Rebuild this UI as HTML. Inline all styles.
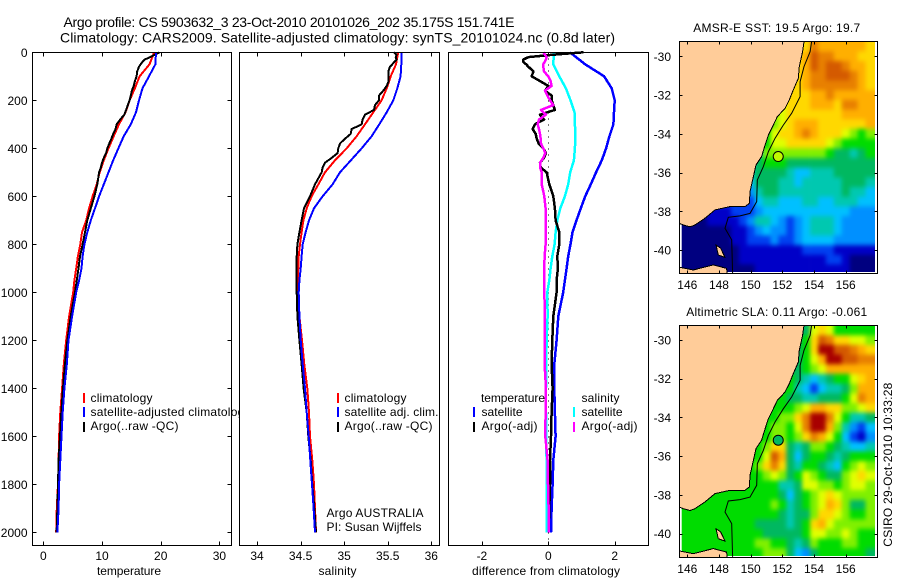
<!DOCTYPE html>
<html lang="en">
<head>
<meta charset="utf-8">
<title>Argo profile 5903632</title>
<style>
html,body{margin:0;padding:0;background:#fff;}
svg{display:block;}
text{font-family:"Liberation Sans",sans-serif;font-size:12px;fill:#000;}
</style>
</head>
<body>
<svg id="fig" xmlns="http://www.w3.org/2000/svg" width="900" height="580" viewBox="0 0 900 580">
  <defs>
    <clipPath id="box-sst"><rect x="680" y="42" width="197" height="231"/></clipPath>
    <clipPath id="data-sst"><rect x="681.7" y="42" width="193.3" height="230"/></clipPath>
    <clipPath id="box-sla"><rect x="680" y="326" width="197" height="231"/></clipPath>
    <clipPath id="data-sla"><rect x="681.7" y="326" width="193.3" height="230"/></clipPath>
    <filter id="cell-soften" filterUnits="userSpaceOnUse" x="640" y="0" width="260" height="580" color-interpolation-filters="sRGB">
      <feGaussianBlur stdDeviation="2 2.5"/>
    </filter>
  </defs>
  <rect x="0" y="0" width="900" height="580" fill="#fff"/>

  <text x="63.5" y="27" style="font-size:14px" textLength="451" lengthAdjust="spacing">Argo profile: CS 5903632_3 23-Oct-2010 20101026_202 35.175S 151.741E</text>
  <text x="60" y="42.5" style="font-size:14px" textLength="555" lengthAdjust="spacing">Climatology: CARS2009. Satellite-adjusted climatology: synTS_20101024.nc (0.8d later)</text>

  <!-- temperature panel -->
  <g>
    <g id="temp-marks"></g>
    <g>
      <rect x="83" y="393" width="2" height="10" fill="#f00"/>
      <rect x="83" y="407" width="2" height="10" fill="#00f"/>
      <rect x="83" y="422" width="2" height="10" fill="#000"/>
      <text x="90.5" y="402" textLength="62" lengthAdjust="spacing">climatology</text>
      <text x="90.5" y="416" textLength="160" lengthAdjust="spacing">satellite-adjusted climatology</text>
      <text x="90.5" y="430" textLength="88" lengthAdjust="spacing">Argo(..raw -QC)</text>
    </g>
    <rect x="32.5" y="52.5" width="199" height="493" fill="none" stroke="#000" shape-rendering="crispEdges"/>
    <g id="temp-axis"></g>
    <text x="129" y="575" text-anchor="middle" textLength="64" lengthAdjust="spacing">temperature</text>
  </g>

  <!-- salinity panel -->
  <g>
    <rect x="239.5" y="52.5" width="200" height="493" fill="#fff"/>
    <g id="sal-marks"></g>
    <g>
      <rect x="337" y="393" width="2" height="10" fill="#f00"/>
      <rect x="337" y="407" width="2" height="10" fill="#00f"/>
      <rect x="337" y="422" width="2" height="10" fill="#000"/>
      <text x="344.5" y="402" textLength="62" lengthAdjust="spacing">climatology</text>
      <text x="344.5" y="416" textLength="94" lengthAdjust="spacing">satellite adj. clim.</text>
      <text x="344.5" y="430" textLength="88" lengthAdjust="spacing">Argo(..raw -QC)</text>
      <text x="326.5" y="517" textLength="97" lengthAdjust="spacing">Argo AUSTRALIA</text>
      <text x="326.5" y="531" textLength="95" lengthAdjust="spacing">PI: Susan Wijffels</text>
    </g>
    <rect x="239.5" y="52.5" width="200" height="493" fill="none" stroke="#000" shape-rendering="crispEdges"/>
    <g id="sal-axis"></g>
    <text x="337.5" y="575" text-anchor="middle" textLength="38" lengthAdjust="spacing">salinity</text>
  </g>

  <!-- difference panel -->
  <g>
    <rect x="448.5" y="52.5" width="200" height="493" fill="#fff"/>
    <g id="diff-marks"></g>
    <g>
      <text x="481" y="402" textLength="64" lengthAdjust="spacing">temperature</text>
      <rect x="473" y="407" width="2" height="10" fill="#00f"/>
      <text x="481.5" y="416" textLength="41" lengthAdjust="spacing">satellite</text>
      <rect x="473" y="422" width="2" height="10" fill="#000"/>
      <text x="481.5" y="430" textLength="56" lengthAdjust="spacing">Argo(-adj)</text>
      <text x="581.5" y="402" textLength="38" lengthAdjust="spacing">salinity</text>
      <rect x="573" y="407" width="2" height="10" fill="#0ff"/>
      <text x="581.5" y="416" textLength="41" lengthAdjust="spacing">satellite</text>
      <rect x="573" y="422" width="2" height="10" fill="#f0f"/>
      <text x="581.5" y="430" textLength="56" lengthAdjust="spacing">Argo(-adj)</text>
    </g>
    <rect x="448.5" y="52.5" width="200" height="493" fill="none" stroke="#000" shape-rendering="crispEdges"/>
    <g id="diff-axis"></g>
    <text x="546" y="575" text-anchor="middle" textLength="148" lengthAdjust="spacing">difference from climatology</text>
  </g>

  <!-- SST map -->
  <g>
    <text x="776.7" y="32" text-anchor="middle" textLength="167" lengthAdjust="spacing">AMSR-E SST: 19.5 Argo: 19.7</text>
    <g id="sst-cells" clip-path="url(#data-sst)" filter="url(#cell-soften)"></g>
    <g id="sst-geo" clip-path="url(#box-sst)"></g>
    <rect x="679.5" y="41.5" width="198" height="232" fill="none" stroke="#000" shape-rendering="crispEdges"/>
    <g id="sst-axis"></g>
  </g>

  <!-- SLA map -->
  <g>
    <text x="776.7" y="316" text-anchor="middle" textLength="181" lengthAdjust="spacing">Altimetric SLA: 0.11 Argo: -0.061</text>
    <g id="sla-cells" clip-path="url(#data-sla)" filter="url(#cell-soften)"></g>
    <g id="sla-geo" clip-path="url(#box-sla)"></g>
    <rect x="679.5" y="325.5" width="198" height="232" fill="none" stroke="#000" shape-rendering="crispEdges"/>
    <g id="sla-axis"></g>
  </g>

  <text transform="translate(892 546.7) rotate(-90)" textLength="164" lengthAdjust="spacing">CSIRO 29-Oct-2010 10:33:28</text>
</svg>

<script>
// ---------- tick labels ----------
const depthTicks = [0,200,400,600,800,1000,1200,1400,1600,1800,2000];
const tempTicks = [0,10,20,30];
const salTicks = [34,34.5,35,35.5,36];
const diffTicks = [-2,0,2];
const lonTicks = [146,148,150,152,154,156];
const latTicks = [-30,-32,-34,-36,-38,-40];

// ---------- depth levels ----------
const coarseDepths = [0,50,100,150,200,250,300,350,400,450,500,550,600,650,700,750,800,850,900,950,1000,1100,1200,1300,1400,1500,1600,1700,1800,1900,2000];
const fineDepths = [0,10,20,30,40,50,60,80,100,120,140,160,180,200,220,240,260,280,300,320,340,360,380,400,420,440,460,480,500,550,600,650,700,750,800,850,900,950,1000,1100,1200,1300,1400,1500,1600,1700,1800,1900,2000];

// ---------- temperature profiles ----------
const tempClimatology = [18.9,18.1,16.4,15.6,14.7,14.0,12.9,12.0,11.1,10.3,9.6,9.1,8.4,7.8,7.3,6.6,6.3,5.9,5.6,5.3,5.1,4.4,3.9,3.5,3.2,2.9,2.7,2.6,2.5,2.3,2.2];
const tempSatellite = [19.2,19.1,18.0,16.9,16.3,15.8,14.9,13.7,12.8,11.9,11.1,10.3,9.5,8.8,8.1,7.5,7.0,6.7,6.5,6.1,5.6,4.9,4.3,4.0,3.6,3.3,3.1,2.9,2.7,2.6,2.4];
const tempArgo = [19.8,19.0,18.2,17.3,16.9,16.6,16.3,16.0,15.9,15.6,15.4,15.1,14.9,14.7,14.4,14.1,13.8,13.1,12.5,12.3,11.9,11.6,11.25,10.9,10.7,10.3,10.0,9.8,9.5,9.2,8.7,8.1,7.5,7.1,6.7,6.25,6.0,5.7,5.4,4.66,4.1,3.7,3.35,3.07,2.84,2.6,2.5,2.4,2.27];

// ---------- salinity profiles ----------
const salClimatology = [35.62,35.595,35.534,35.488,35.43,35.335,35.239,35.143,35.029,34.895,34.78,34.704,34.627,34.57,34.532,34.512,34.493,34.478,34.474,34.467,34.463,34.486,34.516,34.543,34.577,34.597,34.608,34.635,34.654,34.665,34.677];
const salSatellite = [35.656,35.656,35.648,35.61,35.564,35.488,35.403,35.315,35.201,35.078,34.952,34.868,34.753,34.654,34.597,34.558,34.524,34.512,34.501,34.486,34.478,34.486,34.501,34.524,34.551,34.57,34.593,34.612,34.631,34.65,34.665];
const salArgo = [35.572,35.602,35.591,35.602,35.576,35.553,35.526,35.507,35.507,35.511,35.488,35.449,35.4,35.4,35.354,35.342,35.239,35.212,35.201,35.086,35.075,35.01,34.952,34.933,34.925,34.857,34.78,34.753,34.742,34.665,34.608,34.539,34.512,34.486,34.463,34.455,34.455,34.455,34.455,34.463,34.486,34.512,34.535,34.57,34.589,34.616,34.635,34.658,34.677];

// ---------- differences from climatology ----------
const diffTempSatellite = [0.65,1.11,1.68,1.91,2.0,1.98,1.96,1.84,1.74,1.61,1.44,1.28,1.11,0.98,0.85,0.73,0.67,0.6,0.55,0.5,0.45,0.3,0.25,0.18,0.18,0.2,0.22,0.15,0.13,0.1,0.08];
const diffSalSatellite = [0.17,0.15,0.33,0.53,0.67,0.79,0.8,0.82,0.8,0.77,0.66,0.6,0.5,0.36,0.27,0.22,0.19,0.12,0.07,0.03,-0.03,-0.02,-0.05,-0.06,-0.07,-0.07,-0.07,-0.05,-0.05,-0.05,-0.04];
const diffTempArgo = [1.06,0.15,-0.6,-0.75,-0.75,-0.67,-0.6,-0.45,-0.5,-0.25,0,-0.1,0.1,0.1,0.15,0.2,-0.25,-0.13,-0.4,-0.47,-0.38,-0.35,-0.29,-0.15,-0.07,-0.13,-0.25,-0.23,-0.05,0.03,0.15,0.2,0.22,0.33,0.33,0.27,0.29,0.25,0.25,0.15,0.12,0.1,0.13,0.1,0.08,0.05,0.05,0.03,0.01];
const diffSalArgo = [-0.15,-0.1,-0.05,-0.07,-0.11,-0.15,-0.15,-0.13,0,0.07,0.1,-0.1,-0.03,0.05,0.15,-0.22,-0.07,-0.28,-0.32,-0.28,-0.25,-0.23,-0.22,-0.15,-0.09,-0.15,-0.25,-0.25,-0.2,-0.2,-0.12,-0.08,-0.08,-0.07,-0.08,-0.11,-0.12,-0.12,-0.12,-0.1,-0.11,-0.11,-0.07,-0.08,-0.09,-0.02,-0.01,0.01,0.02];

// ---------- map grids (colour level per 0.5 degree cell) ----------
const colorLevels = ['#000080','#0000c8','#0040f0','#0090ff','#00c0ff','#00c8b0','#00b860','#00dc00','#80f000','#e0ff00','#ffd800','#ffaf00','#e88000','#d45a00','#a80000'];
const gridLons = [145.5,146,146.5,147,147.5,148,148.5,149,149.5,150,150.5,151,151.5,152,152.5,153,153.5,154,154.5,155,155.5,156,156.5,157,157.5];
const gridLats = [-29.5,-30,-30.5,-31,-31.5,-32,-32.5,-33,-33.5,-34,-34.5,-35,-35.5,-36,-36.5,-37,-37.5,-38,-38.5,-39,-39.5,-40,-40.5,-41];
const sstGrid = [
[10,10,10,10,10,10,10,10,10,10,10,10,10,10,10,10,10,12,11,11,11,11,11,11,10],
[10,10,10,10,10,10,10,10,10,10,10,10,10,10,10,10,11,13,12,12,11,11,11,10,10],
[10,10,10,10,10,10,10,10,10,10,10,10,10,10,10,10,11,13,12,13,13,12,11,11,10],
[10,10,10,10,10,10,10,10,10,10,10,10,10,10,10,10,11,12,12,13,13,13,12,11,10],
[10,10,10,10,10,10,10,10,10,10,10,10,10,10,10,10,11,12,12,12,12,12,12,11,10],
[10,10,10,10,10,10,10,10,10,10,10,10,10,10,10,10,10,11,11,12,11,11,11,11,11],
[9,9,9,9,9,9,9,9,9,9,9,9,9,9,10,10,10,11,11,11,10,12,12,11,11],
[8,8,8,8,8,8,8,8,8,8,8,8,8,9,10,10,10,10,10,10,10,11,11,11,11],
[7,7,7,7,7,7,7,7,7,7,7,7,8,9,10,11,11,11,10,10,10,10,10,10,11],
[7,7,7,7,7,7,7,7,7,7,7,7,9,10,10,11,12,11,10,10,10,9,8,7,8],
[7,7,7,7,7,7,7,7,7,7,7,7,9,9,10,10,10,10,10,9,8,7,7,7,7],
[5,5,5,5,5,5,5,5,5,5,5,8,8,8,8,8,8,8,8,7,6,6,5,6,7],
[5,5,5,5,5,5,5,5,5,5,6,7,7,7,6,6,6,6,6,6,6,6,6,6,6],
[5,5,5,5,5,5,5,5,5,5,6,6,6,6,5,4,4,5,5,5,6,6,6,6,6],
[4,4,4,4,4,4,4,4,4,4,6,6,6,5,5,4,5,5,5,5,5,6,6,6,5],
[3,3,3,3,3,3,3,3,3,3,5,6,6,5,5,5,5,5,5,5,5,6,5,5,4],
[2,2,2,2,2,2,2,2,2,2,4,5,5,4,4,4,5,5,4,4,5,5,5,4,4],
[1,1,1,1,1,1,1,2,2,2,3,4,4,4,4,4,4,4,4,4,4,4,3,3,3],
[0,0,0,0,1,1,1,1,2,3,5,5,4,3,2,3,4,5,5,5,4,3,3,3,3],
[0,0,0,0,0,0,0,1,1,2,3,4,3,3,2,3,4,5,5,5,4,3,3,3,3],
[0,0,0,0,0,0,0,1,1,2,2,2,3,2,2,3,4,4,4,4,3,3,3,3,3],
[0,0,0,0,0,0,0,0,1,1,1,1,1,1,1,1,2,2,2,2,1,1,1,1,1],
[0,0,0,0,0,0,0,0,1,1,1,1,1,1,1,1,1,1,1,2,2,1,0,0,0],
[0,0,0,0,0,0,0,0,0,0,1,1,1,1,1,1,1,1,1,1,1,1,0,0,0]
];
const slaGrid = [
[7,7,7,7,7,7,7,7,7,6,6,6,6,6,6,6,6,9,10,9,7,7,7,7,7],
[7,7,7,7,7,7,7,7,7,6,6,6,6,6,6,6,7,10,13,12,10,10,9,9,8],
[7,7,7,7,7,7,7,7,7,6,6,6,6,6,6,6,7,10,14,14,13,13,12,11,10],
[7,7,7,7,7,7,7,7,7,6,6,6,6,6,6,6,7,9,11,14,14,13,13,12,12],
[7,7,7,7,7,7,7,7,7,6,6,6,6,6,6,6,7,8,9,11,11,11,11,11,11],
[7,7,7,7,7,7,7,7,7,7,7,7,7,7,7,6,5,4,5,6,7,7,9,10,11],
[7,7,7,7,7,7,7,7,7,7,7,7,7,7,7,5,4,2,4,5,5,6,8,11,11],
[7,7,7,7,7,7,7,7,7,7,7,7,7,7,6,6,5,5,6,6,6,7,9,12,11],
[7,7,7,7,7,7,7,7,7,7,7,7,7,7,7,8,9,11,11,10,10,8,8,9,10],
[7,7,7,7,7,7,7,7,7,7,7,7,7,8,8,10,12,14,14,12,9,7,5,5,6],
[7,7,7,7,7,7,7,7,7,7,7,7,8,8,7,9,12,14,14,11,8,5,3,2,4],
[7,7,7,7,7,7,7,7,7,7,7,7,8,8,7,8,10,12,11,9,7,4,2,1,3],
[7,7,7,7,7,7,7,7,7,7,7,8,10,10,6,5,6,8,8,7,6,5,4,4,5],
[7,7,7,7,7,7,7,7,7,7,7,9,13,11,6,4,6,7,7,6,5,6,7,7,7],
[7,7,7,7,7,7,7,7,7,7,8,10,12,10,6,5,7,7,6,5,4,7,8,9,8],
[7,7,7,7,7,7,7,7,7,7,7,8,9,8,6,7,9,8,7,6,6,8,9,10,9],
[7,7,7,7,7,7,7,7,7,7,7,7,7,5,5,6,9,9,8,8,7,8,9,9,8],
[7,7,7,7,7,7,7,7,7,7,7,7,7,6,4,6,7,8,9,10,9,8,8,8,8],
[7,7,7,7,7,7,7,7,7,7,7,7,8,7,5,6,7,8,9,11,10,8,6,6,8],
[7,7,7,7,7,7,7,7,7,7,7,7,7,6,5,6,6,8,10,10,9,8,7,7,8],
[7,7,7,7,7,7,7,7,7,7,6,6,6,6,5,6,7,10,11,9,8,8,8,8,8],
[7,7,7,7,7,7,7,7,7,7,7,6,6,6,6,6,7,9,9,8,8,9,8,7,7],
[7,7,7,7,7,7,7,7,7,7,8,8,7,7,6,5,6,8,7,7,7,8,8,7,7],
[7,7,7,7,7,7,7,7,7,7,7,8,8,8,6,4,3,6,7,7,7,7,7,7,6]
];

// ---------- geography (lon, lat) ----------
const mainlandLons = [145.49,153.37,153.28,153.07,153.01,152.69,152.44,152.17,151.68,151.43,151.12,150.91,150.69,150.34,150.17,149.96,149.92,149.64,148.69,147.75,147.12,146.48,146.17,145.75,145.49];
const mainlandLats = [-29.2,-29.24,-29.76,-30.53,-31.14,-31.74,-32.25,-32.69,-33.12,-33.55,-34.06,-34.58,-35.18,-35.61,-36.21,-36.99,-37.59,-37.76,-37.76,-37.93,-38.36,-38.71,-38.8,-38.71,-38.62];
const tasmaniaLons = [145.49,146.38,147.64,148.48,148.53,145.49];
const tasmaniaLats = [-40.89,-41.03,-40.77,-40.95,-41.3,-41.3];
const flindersLons = [147.81,148.11,148.38,147.96];
const flindersLats = [-39.74,-39.91,-40.38,-40.26];
const shelfLons = [153.85,153.75,153.37,153.12,153.12,152.59,152.06,151.54,151.12,150.8,150.42,150.38,149.96,149.33,148.59,148.38,148.8,148.86];
const shelfLats = [-29.24,-29.76,-30.53,-31.31,-32.08,-32.94,-33.55,-34.23,-34.92,-35.7,-36.39,-37.5,-38.11,-38.24,-38.31,-38.88,-39.48,-41.2];
const argoLon = 151.741;
const argoLat = -35.175;

// ---------- axis functions ----------
const SVGNS = 'http://www.w3.org/2000/svg';
function depthY(d){ return 52.3 + 0.24 * d; }
function tempX(t){ return 43.3 + 5.87 * t; }
function salX(s){ return 257 + 87.15 * (s - 34); }
function diffX(v){ return 548.3 + 33.2 * v; }
function lonX(lon){ return 687.3 + 15.84 * (lon - 146); }
function latY(lat, y30){ return y30 + 19.37 * (-30 - lat); }

function make(tag, parent){
  const el = document.createElementNS(SVGNS, tag);
  parent.appendChild(el);
  return el;
}
function pathFrom(xs, ys, close){
  let d = '';
  for (let i = 0; i < xs.length; i++) d += (i ? 'L' : 'M') + xs[i].toFixed(1) + ' ' + ys[i].toFixed(1);
  return d + (close ? 'Z' : '');
}

function drawProfile(parent, values, depths, xf, color, seriesName, width){
  const el = make('path', parent);
  
  
  el.setAttribute('d', pathFrom(values.map(xf), depths.map(depthY), false));
  el.setAttribute('fill', 'none');
  el.setAttribute('stroke', color);
  el.setAttribute('stroke-width', width);
  el.setAttribute('stroke-linejoin', 'round');
  el.setAttribute('shape-rendering', 'crispEdges');
}

function drawXTicks(parent, ticks, xf){
  ticks.forEach(function(t){
    const x = Math.round(xf(t)) + 0.5;
    [[52.5, 56.5], [545.5, 541.5]].forEach(function(seg){
      const tick = make('line', parent);
      
      
      tick.setAttribute('x1', x);
      tick.setAttribute('x2', x);
      tick.setAttribute('y1', seg[0]);
      tick.setAttribute('y2', seg[1]);
      tick.setAttribute('stroke', '#000');
      tick.setAttribute('shape-rendering', 'crispEdges');
    });
    const label = make('text', parent);
    
    
    label.setAttribute('x', xf(t));
    label.setAttribute('y', 560);
    label.setAttribute('text-anchor', 'middle');
    label.textContent = String(t);
  });
}

function drawMap(cellsId, geoId, axisId, grid, y30, boxTop, boxBottom, circleColor){
  const cells = document.getElementById(cellsId);
  grid.forEach(function(row, r){
    row.forEach(function(level, c){
      const cell = make('rect', cells);
      
      
      // outermost cells run past the clip so the soft edge never shows
      const x0 = lonX(gridLons[c] - 0.25) - (c === 0 ? 20 : 0);
      const x1 = lonX(gridLons[c] + 0.25) + (c === row.length - 1 ? 20 : 0);
      const y0 = latY(gridLats[r] + 0.25, y30) - (r === 0 ? 20 : 0);
      const y1 = latY(gridLats[r] - 0.25, y30) + (r === grid.length - 1 ? 20 : 0);
      cell.setAttribute('x', x0.toFixed(1));
      cell.setAttribute('y', y0.toFixed(1));
      cell.setAttribute('width', (x1 - x0 + 0.4).toFixed(1));
      cell.setAttribute('height', (y1 - y0 + 0.4).toFixed(1));
      cell.setAttribute('fill', colorLevels[level]);
    });
  });

  const geo = document.getElementById(geoId);
  const land = make('path', geo);
  
  
  land.setAttribute('d', pathFrom(mainlandLons.map(lonX), mainlandLats.map(function(v){ return latY(v, y30); }), true));
  land.setAttribute('fill', '#ffcc99');
  land.setAttribute('stroke', '#000');
  land.setAttribute('stroke-width', '1');
  land.setAttribute('shape-rendering', 'crispEdges');

  const tas = make('path', geo);
  
  
  tas.setAttribute('d', pathFrom(tasmaniaLons.map(lonX), tasmaniaLats.map(function(v){ return latY(v, y30); }), true));
  tas.setAttribute('fill', '#ffcc99');
  tas.setAttribute('stroke', '#000');
  tas.setAttribute('shape-rendering', 'crispEdges');

  const fl = make('path', geo);
  
  
  fl.setAttribute('d', pathFrom(flindersLons.map(lonX), flindersLats.map(function(v){ return latY(v, y30); }), true));
  fl.setAttribute('fill', '#ffcc99');
  fl.setAttribute('stroke', '#000');
  fl.setAttribute('shape-rendering', 'crispEdges');

  const shelf = make('path', geo);
  
  
  shelf.setAttribute('d', pathFrom(shelfLons.map(lonX), shelfLats.map(function(v){ return latY(v, y30); }), false));
  shelf.setAttribute('fill', 'none');
  shelf.setAttribute('stroke', '#000');
  shelf.setAttribute('stroke-width', '1');

  const circle = make('circle', geo);
  
  
  circle.setAttribute('cx', lonX(argoLon));
  circle.setAttribute('cy', latY(argoLat, y30));
  circle.setAttribute('r', 5);
  circle.setAttribute('fill', circleColor);
  circle.setAttribute('stroke', '#000');

  const axis = document.getElementById(axisId);
  lonTicks.forEach(function(lon){
    const x = Math.round(lonX(lon)) + 0.5;
    [[boxTop, boxTop + 3], [boxBottom, boxBottom - 3]].forEach(function(seg){
      const tick = make('line', axis);
      
      
      tick.setAttribute('x1', x);
      tick.setAttribute('x2', x);
      tick.setAttribute('y1', seg[0]);
      tick.setAttribute('y2', seg[1]);
      tick.setAttribute('stroke', '#000');
      tick.setAttribute('shape-rendering', 'crispEdges');
    });
    const label = make('text', axis);
    
    
    label.setAttribute('x', lonX(lon));
    label.setAttribute('y', boxBottom + 15.7);
    label.setAttribute('text-anchor', 'middle');
    label.textContent = String(lon);
  });
  latTicks.forEach(function(lat){
    const y = Math.round(latY(lat, y30)) + 0.5;
    [[679.5, 682.5], [877.5, 874.5]].forEach(function(seg){
      const tick = make('line', axis);
      
      
      tick.setAttribute('x1', seg[0]);
      tick.setAttribute('x2', seg[1]);
      tick.setAttribute('y1', y);
      tick.setAttribute('y2', y);
      tick.setAttribute('stroke', '#000');
      tick.setAttribute('shape-rendering', 'crispEdges');
    });
    const label = make('text', axis);
    
    
    label.setAttribute('x', 671);
    label.setAttribute('y', latY(lat, y30) + 4.5);
    label.setAttribute('text-anchor', 'end');
    label.textContent = String(lat);
  });
}

// ---------- draw profile panels ----------
const tempMarks = document.getElementById('temp-marks');
drawProfile(tempMarks, tempClimatology, coarseDepths, tempX, '#ff0000', 'temperature-climatology-line', 2);
drawProfile(tempMarks, tempArgo, fineDepths, tempX, '#000000', 'temperature-argo-line', 2);
drawProfile(tempMarks, tempSatellite, coarseDepths, tempX, '#0000ff', 'temperature-satellite-line', 2);

const salMarks = document.getElementById('sal-marks');
drawProfile(salMarks, salClimatology, coarseDepths, salX, '#ff0000', 'salinity-climatology-line', 2);
drawProfile(salMarks, salArgo, fineDepths, salX, '#000000', 'salinity-argo-line', 2);
drawProfile(salMarks, salSatellite, coarseDepths, salX, '#0000ff', 'salinity-satellite-line', 2);

const diffMarks = document.getElementById('diff-marks');
const zeroLine = make('line', diffMarks);


zeroLine.setAttribute('x1', Math.round(diffX(0)) + 0.5);
zeroLine.setAttribute('x2', Math.round(diffX(0)) + 0.5);
zeroLine.setAttribute('y1', depthY(0));
zeroLine.setAttribute('y2', 545);
zeroLine.setAttribute('stroke', '#000');
zeroLine.setAttribute('stroke-dasharray', '1 5');
zeroLine.setAttribute('shape-rendering', 'crispEdges');
drawProfile(diffMarks, diffTempSatellite, coarseDepths, diffX, '#0000ff', 'difference-temperature-satellite-line', 2.5);
drawProfile(diffMarks, diffSalSatellite, coarseDepths, diffX, '#00ffff', 'difference-salinity-satellite-line', 2.5);
drawProfile(diffMarks, diffTempArgo, fineDepths, diffX, '#000000', 'difference-temperature-argo-line', 2.5);
drawProfile(diffMarks, diffSalArgo, fineDepths, diffX, '#ff00ff', 'difference-salinity-argo-line', 2.5);

// ---------- axes ----------
const tempAxis = document.getElementById('temp-axis');
depthTicks.forEach(function(d){
  const y = Math.round(depthY(d)) + 0.5;
  [[32.5, 36.5], [231.5, 227.5]].forEach(function(seg){
    const tick = make('line', tempAxis);
    
    
    tick.setAttribute('x1', seg[0]);
    tick.setAttribute('x2', seg[1]);
    tick.setAttribute('y1', y);
    tick.setAttribute('y2', y);
    tick.setAttribute('stroke', '#000');
    tick.setAttribute('shape-rendering', 'crispEdges');
  });
  const label = make('text', tempAxis);
  
  
  label.setAttribute('x', 27.5);
  label.setAttribute('y', depthY(d) + 4.5);
  label.setAttribute('text-anchor', 'end');
  label.textContent = String(d);
});
drawXTicks(tempAxis, tempTicks, tempX);
drawXTicks(document.getElementById('sal-axis'), salTicks, salX);
drawXTicks(document.getElementById('diff-axis'), diffTicks, diffX);

// ---------- maps ----------
drawMap('sst-cells', 'sst-geo', 'sst-axis', sstGrid, 56.3, 41.5, 273.5, '#c0f800');
drawMap('sla-cells', 'sla-geo', 'sla-axis', slaGrid, 340, 325.5, 557.5, '#00b860');
</script>
</body>
</html>
